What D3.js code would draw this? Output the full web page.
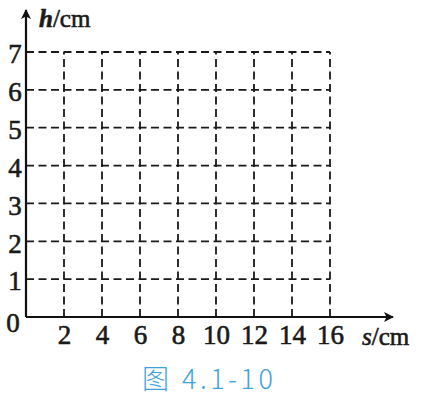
<!DOCTYPE html>
<html>
<head>
  <script src="https://d3js.org/d3.v7.min.js"></script>
  <style>
    body { margin: 0; background: #fff; }
    .tick-label { font-family: "Liberation Serif", serif; font-size: 27px; fill: #1a1a1a; stroke: #1a1a1a; stroke-width: 0.6px; }
    .grid line { stroke: #1a1a1a; stroke-width: 1.8; stroke-dasharray: 8 4.5; }
  </style>
</head>
<body>
<div id="chart"></div>
<script>
  var xTicks = [2, 4, 6, 8, 10, 12, 14, 16];
  var yTicks = [1, 2, 3, 4, 5, 6, 7];
  var yLabels = [0, 1, 2, 3, 4, 5, 6, 7];
  var xName = "s", xUnit = "/cm";
  var yName = "h", yUnit = "/cm";
  var caption = "图 4.1-10";

  var width = 424, height = 402;

  var x = d3.scaleLinear().domain([0, 16]).range([26, 330]);
  var y = d3.scaleLinear().domain([0, 7]).range([317, 52]);

  var svg = d3.select("#chart").append("svg")
    .attr("width", width)
    .attr("height", height);

  svg.append("defs").append("marker")
    .attr("id", "arrow")
    .attr("viewBox", "0 0 10 10")
    .attr("refX", 9).attr("refY", 5)
    .attr("markerWidth", 17).attr("markerHeight", 10)
    .attr("markerUnits", "userSpaceOnUse")
    .attr("orient", "auto")
    .append("path")
    .attr("d", "M0,0 L10,5 L0,10 L2.5,5 Z")
    .attr("fill", "#111");

  // dashed grid, only up to the last tick
  var grid = svg.append("g").attr("class", "grid");
  grid.selectAll(".v").data(xTicks).enter().append("line")
    .attr("x1", function(d) { return x(d); })
    .attr("x2", function(d) { return x(d); })
    .attr("y1", y(0))
    .attr("y2", y(7));
  grid.selectAll(".h").data(yTicks).enter().append("line")
    .attr("x1", x(0))
    .attr("x2", x(16))
    .attr("y1", function(d) { return y(d); })
    .attr("y2", function(d) { return y(d); });

  // axes with arrows
  svg.append("line")
    .attr("x1", x(0)).attr("y1", y(0))
    .attr("x2", 393).attr("y2", y(0))
    .attr("stroke", "#111").attr("stroke-width", 2.2)
    .attr("marker-end", "url(#arrow)");
  svg.append("line")
    .attr("x1", x(0)).attr("y1", y(0))
    .attr("x2", x(0)).attr("y2", 10)
    .attr("stroke", "#111").attr("stroke-width", 2.2)
    .attr("marker-end", "url(#arrow)");

  // tick labels
  var xAxis = d3.axisBottom(x).tickValues(xTicks).tickSize(0).tickPadding(0)
    .tickFormat(d3.format("d"));
  var gx = svg.append("g")
    .attr("transform", "translate(0," + y(0) + ")")
    .call(xAxis);
  gx.select(".domain").remove();
  gx.attr("font-family", null).attr("font-size", null);
  gx.selectAll("text")
    .attr("class", "tick-label")
    .attr("y", 27)
    .attr("dy", 0)
    .attr("fill", null);

  var yAxis = d3.axisLeft(y).tickValues(yLabels).tickSize(0).tickPadding(0)
    .tickFormat(d3.format("d"));
  var gy = svg.append("g").call(yAxis);
  gy.select(".domain").remove();
  gy.attr("font-family", null).attr("font-size", null);
  gy.selectAll("text")
    .attr("class", "tick-label")
    .attr("x", 15)
    .attr("dy", "0.4em")
    .attr("text-anchor", "middle")
    .attr("fill", null);
  gy.selectAll(".tick").filter(function(d) { return d === 0; })
    .select("text").attr("dy", "0.55em").attr("x", 13);

  // axis names
  var yt = svg.append("text")
    .attr("x", 39).attr("y", 27)
    .attr("class", "tick-label")
    .style("font-size", "25px");
  yt.append("tspan").text(yName).style("font-style", "italic").style("font-weight", "bold");
  yt.append("tspan").text(yUnit);

  var xt = svg.append("text")
    .attr("x", 362).attr("y", 345)
    .attr("class", "tick-label")
    .style("font-size", "25px");
  xt.append("tspan").text(xName).style("font-style", "italic");
  xt.append("tspan").text(xUnit);

  svg.append("text")
    .attr("x", 142).attr("y", 389)
    .attr("fill", "#3ea2de")
    .style("font-family", "'Noto Sans CJK SC', 'Noto Sans', sans-serif")
    .style("font-weight", 300)
    .style("font-size", "27px")
    .style("letter-spacing", "3.5px")
    .text(caption);
</script>
</body>
</html>
